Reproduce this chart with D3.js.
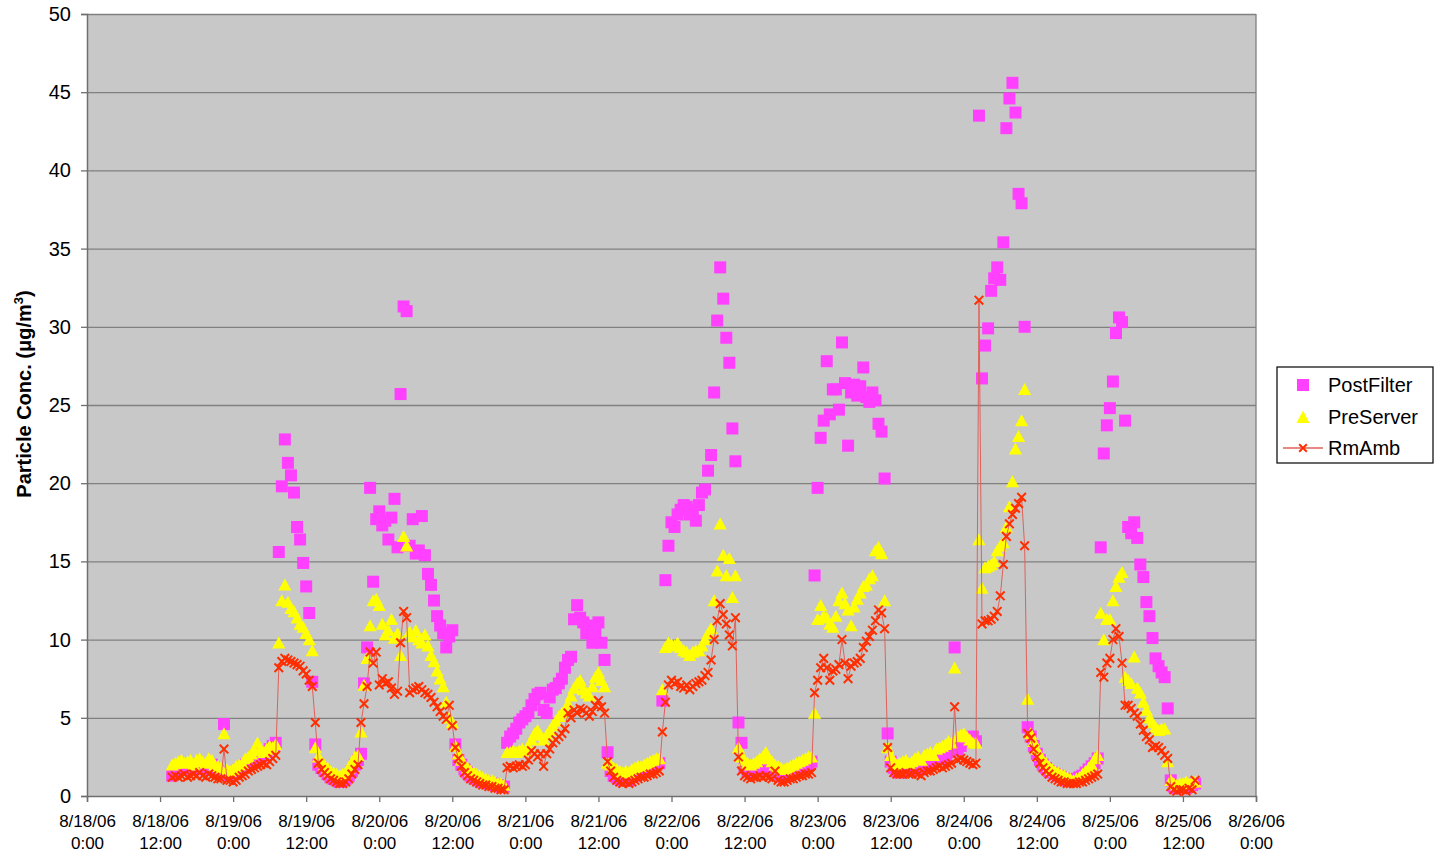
<!DOCTYPE html>
<html><head><meta charset="utf-8">
<script src="https://cdn.jsdelivr.net/npm/d3@7"></script>
<style>
body{margin:0;background:#fff}
svg{display:block}
text{font-family:Arial,"Liberation Sans",sans-serif;fill:#000}
</style>
</head><body>
<svg id="chart" width="1449" height="856"></svg>
<script>
// ---- data: readings every 30 minutes starting 8/18/06 14:00 ----
const startTime = new Date(2006, 7, 18, 14, 0);
const stepMinutes = 30;

const postFilter = [
 1.3,1.5,1.7,1.8,1.7,1.9,1.8,1.7,1.9,2.0,1.8,1.7,1.9,2.0,1.7,1.6,1.5,4.6,1.4,1.3,1.4,1.5,1.7,1.8,2.0,2.1,2.3,2.5,2.7,2.5,2.6,2.8,3.0,3.2,3.4,
 15.6,19.8,22.8,21.3,20.5,19.4,17.2,16.4,14.9,13.4,11.7,7.3,3.3,2.0,
 1.8,1.6,1.4,1.2,1.1,1.0,0.9,1.0,1.1,1.3,1.6,2.0,2.3,
 2.7,7.2,9.5,19.7,13.7,17.7,18.2,17.3,17.6,16.4,17.8,19.0,15.9,25.7,31.3,31.0,16.0,17.7,15.5,15.7,17.9,15.4,14.2,13.5,12.5,11.5,10.9,10.4,9.5,10.2,10.6,3.3,
 2.3,2.0,1.7,1.5,1.3,1.2,1.1,1.0,0.9,0.9,0.8,0.8,0.7,0.7,0.6,0.6,
 3.4,3.8,4.0,4.3,4.7,4.9,5.1,5.3,5.8,6.2,6.5,6.6,5.5,5.3,6.3,6.8,6.9,7.2,7.5,8.2,8.7,8.9,11.3,12.2,11.4,11.1,10.4,10.9,9.8,10.5,11.1,9.8,8.7,2.8,
 1.6,1.3,1.2,1.1,1.0,1.1,1.0,1.2,1.3,1.4,1.5,1.6,1.7,1.8,1.9,2.0,2.1,
 6.1,13.8,16.0,17.5,17.2,18.0,18.3,18.6,18.5,18.0,18.3,17.6,18.6,19.4,19.6,20.8,21.8,25.8,30.4,33.8,31.8,29.3,27.7,23.5,21.4,4.7,3.4,
 1.8,1.6,1.5,1.5,1.6,1.7,1.8,1.9,1.7,1.6,1.5,1.4,1.3,1.2,1.3,1.4,1.5,1.6,1.7,1.8,1.9,2.0,
 2.2,14.1,19.7,22.9,24.0,27.8,24.4,26.0,26.0,24.7,29.0,26.4,22.4,25.8,26.3,25.6,26.2,27.4,25.5,25.2,25.8,25.3,23.8,23.3,20.3,4.0,
 2.2,1.8,1.6,1.5,1.6,1.7,1.6,1.7,1.8,1.8,1.7,1.9,2.0,2.1,2.2,2.3,2.4,2.5,2.6,2.8,2.9,9.5,3.0,3.2,3.4,3.5,3.6,3.8,
 3.5,43.5,26.7,28.8,29.9,32.3,33.1,33.8,33.0,35.4,42.7,44.6,45.6,43.7,38.5,37.9,30.0,4.4,
 3.8,3.2,2.7,2.3,2.0,1.8,1.6,1.5,1.4,1.3,1.2,1.1,1.0,1.0,1.0,1.1,1.2,1.3,1.5,1.7,1.9,2.1,
 2.4,15.9,21.9,23.7,24.8,26.5,29.6,30.6,30.3,24.0,17.2,16.8,17.5,16.5,14.8,14.0,12.4,11.5,10.1,8.8,8.3,7.9,7.6,5.6,1.0,
 0.6,0.5,0.5,0.6,0.5,0.6,0.7,0.8
];

const preServer = [
 2.0,2.1,2.2,2.3,2.1,2.2,2.3,2.0,2.3,2.4,2.2,2.1,2.4,2.3,2.0,1.9,1.8,4.0,1.7,1.6,1.7,1.9,2.0,2.1,2.4,2.5,2.7,2.9,3.4,3.0,2.8,3.0,3.2,3.1,3.3,
 9.8,12.5,13.5,12.4,12.0,11.8,11.4,11.0,10.8,10.4,10.0,9.3,3.1,2.5,
 2.2,2.0,1.8,1.6,1.5,1.4,1.3,1.4,1.5,1.8,2.2,2.5,2.6,
 4.1,7.1,8.8,10.9,12.5,12.6,12.2,11.0,10.3,10.6,11.3,10.1,10.4,9.0,16.6,16.0,10.5,10.2,10.6,10.0,9.8,10.3,9.6,9.0,8.6,8.0,7.5,7.0,6.0,5.0,4.7,3.2,
 2.7,2.3,2.0,1.8,1.6,1.5,1.4,1.3,1.2,1.1,1.0,1.0,0.9,0.8,0.8,0.7,
 2.8,2.8,2.9,2.8,2.9,3.0,2.9,3.2,3.6,4.0,4.2,3.9,3.6,3.9,4.2,4.5,4.8,5.1,5.3,5.5,5.9,6.4,6.9,7.2,7.4,6.8,6.6,6.4,7.0,7.6,7.9,7.4,7.0,2.1,
 2.0,1.8,1.7,1.6,1.5,1.6,1.5,1.7,1.8,1.9,1.9,2.0,2.1,2.2,2.3,2.4,2.4,
 6.8,9.5,9.8,9.7,9.6,9.8,9.5,9.3,9.2,9.0,9.2,9.3,9.3,9.6,10.0,10.4,10.7,12.5,14.4,17.4,15.4,14.1,15.2,12.7,14.1,3.1,2.5,
 2.3,2.1,2.0,2.1,2.2,2.4,2.5,2.8,2.4,2.2,2.0,1.9,1.8,1.7,1.8,1.9,2.0,2.1,2.2,2.3,2.4,2.5,
 2.5,5.3,11.3,12.2,11.5,11.4,11.0,10.8,11.5,12.5,13.0,12.3,11.9,10.9,12.1,12.6,13.0,13.4,13.5,13.9,14.1,15.7,15.9,15.5,12.5,3.1,
 2.6,2.2,2.0,2.1,2.2,2.3,2.1,2.2,2.4,2.5,2.3,2.6,2.7,2.8,2.6,3.0,3.1,3.2,3.3,3.5,3.4,8.2,3.8,3.9,4.0,3.8,3.6,3.4,
 3.4,16.4,13.3,14.6,14.7,14.8,15.0,15.7,16.0,16.2,17.2,18.5,20.1,22.2,23.0,24.0,26.0,6.2,
 4.0,3.5,3.0,2.6,2.3,2.1,1.9,1.7,1.6,1.5,1.4,1.3,1.2,1.1,1.0,1.1,1.2,1.4,1.6,1.8,2.0,2.4,
 2.6,11.7,10.0,11.3,11.3,12.5,13.4,14.0,14.3,7.6,7.4,7.2,8.9,6.9,6.6,6.0,5.5,5.0,4.7,4.4,4.2,4.3,4.3,2.2,1.0,
 0.8,0.7,0.8,0.8,0.9,0.8,0.9,0.9
];

const rmAmb = [
 1.2,1.3,1.2,1.3,1.4,1.2,1.3,1.4,1.3,1.5,1.3,1.2,1.4,1.3,1.2,1.1,1.1,3.0,1.0,1.0,0.9,1.0,1.2,1.3,1.4,1.6,1.7,1.8,1.9,2.0,2.1,2.0,2.2,2.4,2.6,
 8.2,8.6,8.8,8.7,8.6,8.5,8.4,8.3,8.0,7.8,7.4,7.0,4.7,2.1,
 1.7,1.5,1.3,1.1,1.0,0.9,0.8,0.8,0.9,1.1,1.4,1.7,2.0,
 4.7,5.9,7.0,9.2,8.5,9.2,7.1,7.5,7.2,7.3,6.9,6.5,6.7,9.8,11.8,11.4,6.6,6.8,6.9,7.0,6.8,6.6,6.5,6.3,6.0,5.7,5.4,5.1,4.9,5.8,4.5,3.1,
 2.4,1.9,1.5,1.3,1.1,1.0,0.9,0.8,0.7,0.7,0.6,0.6,0.5,0.5,0.4,0.4,
 1.8,1.9,1.8,1.9,2.0,1.9,2.0,2.3,2.9,2.7,2.5,2.7,1.9,2.7,3.0,3.4,3.6,3.8,4.0,4.3,5.3,5.0,5.5,5.3,5.6,5.5,5.3,5.1,5.4,5.8,6.1,5.7,5.3,2.2,
 1.6,1.2,1.0,0.9,0.8,0.9,0.8,0.9,1.0,1.1,1.2,1.2,1.3,1.4,1.4,1.5,1.6,
 4.1,6.0,7.1,7.4,7.2,7.3,7.0,6.9,7.1,6.8,7.0,7.2,7.3,7.4,7.7,7.9,8.7,10.0,11.2,12.3,11.6,11.0,10.3,9.6,11.4,2.5,1.6,
 1.3,1.2,1.1,1.2,1.2,1.3,1.2,1.3,1.2,1.1,1.6,1.0,0.9,0.9,1.0,1.1,1.1,1.2,1.3,1.3,1.4,1.4,
 1.5,6.6,7.4,8.2,8.8,8.2,7.4,8.0,8.1,8.4,10.0,8.5,7.5,8.3,8.5,8.6,8.8,9.5,9.9,10.2,10.6,11.2,11.9,11.7,10.7,3.1,
 1.8,1.5,1.4,1.4,1.4,1.5,1.4,1.4,1.5,1.4,1.3,1.5,1.6,1.6,1.7,1.8,1.9,1.8,1.9,2.0,2.1,5.7,2.3,2.4,2.3,2.2,2.1,2.0,
 2.1,31.7,11.0,11.2,11.2,11.3,11.5,11.8,12.8,14.8,16.6,17.4,18.0,18.4,18.7,19.1,16.0,4.0,
 3.7,3.0,2.5,2.1,1.8,1.6,1.4,1.2,1.1,1.0,0.9,0.9,0.8,0.8,0.8,0.8,0.9,0.9,1.0,1.1,1.2,1.3,
 1.4,7.9,7.6,8.5,8.8,10.0,10.7,10.2,8.5,5.8,5.8,5.6,5.3,5.1,4.6,4.2,3.8,3.6,3.1,3.2,3.1,2.9,2.6,2.4,0.6,
 0.4,0.3,0.4,0.4,0.3,0.5,0.4,1.0
];

const seriesNames = ["PostFilter", "PreServer", "RmAmb"];
const yTicks = [0,5,10,15,20,25,30,35,40,45,50];
const xDomain = [new Date(2006,7,18,0,0), new Date(2006,7,26,0,0)];
const yTitle = "Particle Conc. (μg/m";

// ---- layout ----
const plot = {left: 87, right: 1256, top: 14, bottom: 796};
const colors = {post: "#FF40FF", pre: "#FFFF00", rm: "#FF2E00", rmLine: "#E0605A", bg: "#C8C8C8", grid: "#808080"};

const svg = d3.select("#chart");
const x = d3.scaleTime().domain(xDomain).range([plot.left, plot.right]);
const y = d3.scaleLinear().domain([0, 50]).range([plot.bottom, plot.top]);

const timeAt = i => d3.timeMinute.offset(startTime, i * stepMinutes);
const toPts = arr => arr.map((v, i) => ({t: timeAt(i), v}));

// plot background
svg.append("rect").attr("x", plot.left).attr("y", plot.top)
  .attr("width", plot.right - plot.left).attr("height", plot.bottom - plot.top)
  .attr("fill", colors.bg);

// gridlines
const grid = svg.append("g").attr("transform", `translate(${plot.left},0)`)
  .call(d3.axisLeft(y).tickValues(yTicks.filter(d => d > 0)).tickSize(-(plot.right - plot.left)).tickFormat(""));
grid.select(".domain").remove();
grid.selectAll("line").attr("stroke", colors.grid).attr("stroke-width", 1.3);

// plot border (right side)
svg.append("line").attr("x1", plot.right).attr("x2", plot.right).attr("y1", plot.top).attr("y2", plot.bottom)
  .attr("stroke", colors.grid).attr("stroke-width", 1.3);

// y axis
const yAxis = svg.append("g").attr("transform", `translate(${plot.left},0)`)
  .call(d3.axisLeft(y).tickValues(yTicks).tickSize(6).tickPadding(10).tickFormat(d3.format("d")));
yAxis.select(".domain").attr("stroke", "#6f6f6f").attr("stroke-width", 1.5);
yAxis.selectAll(".tick line").attr("stroke", "#6f6f6f").attr("stroke-width", 1.3);
yAxis.selectAll("text").attr("font-size", 20).attr("font-family", "Arial, 'Liberation Sans', sans-serif").attr("fill", "#000");

// x axis
const fmtDate = d3.timeFormat("%-m/%d/%y");
const fmtTime = d3.timeFormat("%-H:%M");
const xAxis = svg.append("g").attr("transform", `translate(0,${plot.bottom})`)
  .call(d3.axisBottom(x).ticks(d3.timeHour.every(12)).tickSize(6).tickFormat(""));
xAxis.select(".domain").attr("stroke", "#6f6f6f").attr("stroke-width", 1.5);
xAxis.selectAll(".tick line").attr("stroke", "#6f6f6f").attr("stroke-width", 1.3);
xAxis.selectAll(".tick").each(function(d) {
  const t = d3.select(this).select("text").attr("y", null).attr("dy", null)
    .attr("font-size", 17).attr("font-family", "Arial, 'Liberation Sans', sans-serif").attr("fill", "#000");
  t.append("tspan").attr("x", 0).attr("y", 31).text(fmtDate(d));
  t.append("tspan").attr("x", 0).attr("y", 53).text(fmtTime(d));
});

// y title
const yt = svg.append("text").attr("transform", "translate(31,394) rotate(-90)")
  .attr("text-anchor", "middle").attr("font-size", 20).attr("font-weight", "bold");
yt.append("tspan").text(yTitle);
yt.append("tspan").attr("dy", -8).attr("font-size", 13).text("3");
yt.append("tspan").attr("dy", 8).text(")");

// markers
const squarePath = "M-6,-6H6V6H-6Z";
const triPath = "M0,-6.3L6.6,5.7H-6.6Z";
const xPath = "M-4.3,-4.3L4.3,4.3M4.3,-4.3L-4.3,4.3";

const gData = svg.append("g");
gData.append("g").selectAll("path").data(toPts(postFilter)).join("path")
  .attr("d", squarePath).attr("fill", colors.post)
  .attr("transform", d => `translate(${x(d.t)},${y(d.v)})`);
gData.append("g").selectAll("path").data(toPts(preServer)).join("path")
  .attr("d", triPath).attr("fill", colors.pre)
  .attr("transform", d => `translate(${x(d.t)},${y(d.v)})`);
const line = d3.line().x(d => x(d.t)).y(d => y(d.v));
gData.append("path").datum(toPts(rmAmb)).attr("d", line)
  .attr("fill", "none").attr("stroke", colors.rmLine).attr("stroke-width", 1);
gData.append("g").selectAll("path").data(toPts(rmAmb)).join("path")
  .attr("d", xPath).attr("stroke", colors.rm).attr("stroke-width", 2).attr("fill", "none")
  .attr("transform", d => `translate(${x(d.t)},${y(d.v)})`);

// legend
const lg = svg.append("g").attr("transform", "translate(1277,367)");
lg.append("rect").attr("width", 156).attr("height", 96).attr("fill", "#fff").attr("stroke", "#000").attr("stroke-width", 1.2);
const rows = [
  {name: seriesNames[0], dy: 18},
  {name: seriesNames[1], dy: 50},
  {name: seriesNames[2], dy: 81}
];
lg.append("path").attr("d", "M-6,-6H6V6H-6Z").attr("fill", colors.post).attr("transform", `translate(26,${rows[0].dy})`);
lg.append("path").attr("d", "M0,-6.5L6.5,6H-6.5Z").attr("fill", colors.pre).attr("transform", `translate(26,${rows[1].dy})`);
lg.append("line").attr("x1", 6).attr("x2", 46).attr("y1", rows[2].dy).attr("y2", rows[2].dy).attr("stroke", colors.rmLine).attr("stroke-width", 1.5);
lg.append("path").attr("d", "M-3.8,-3.8L3.8,3.8M3.8,-3.8L-3.8,3.8").attr("stroke", colors.rm).attr("stroke-width", 2).attr("transform", `translate(26,${rows[2].dy})`);
rows.forEach(r => {
  lg.append("text").attr("x", 51).attr("y", r.dy).attr("dy", "0.36em").attr("font-size", 20).text(r.name);
});
</script>
</body></html>
